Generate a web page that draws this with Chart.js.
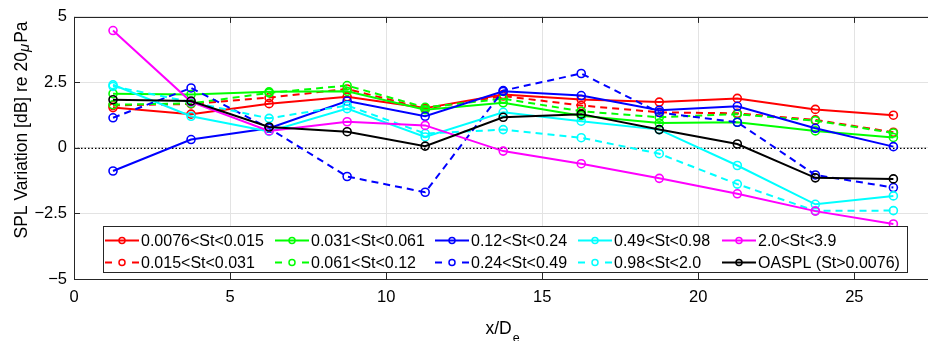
<!DOCTYPE html>
<html lang="en">
  <head>
    <meta charset="UTF-8" />
    <title>SPL variation along x/De</title>
    <script src="https://cdn.jsdelivr.net/npm/chart.js@4.5.0/dist/chart.umd.min.js"></script>
    <style>
      html, body { margin: 0; padding: 0; background: #fff; overflow: hidden; }
      #wrap { width: 938px; height: 341px; }
    </style>
  </head>
  <body>
    <div id="wrap"><canvas id="myChart" width="938" height="341"></canvas></div>

    <script>
      // axial stations (x/De) and tick values
      const xPos = [1.25, 3.75, 6.25, 8.75, 11.25, 13.75, 16.25, 18.75, 21.25, 23.75, 26.25];
      const xTicks = [0, 5, 10, 15, 20, 25];
      const yTicks = [-5, -2.5, 0, 2.5, 5];

      // SPL variation per Strouhal band [dB]
      const st0076 = [1.54, 1.29, 1.69, 1.95, 1.52, 2.04, 1.85, 1.75, 1.89, 1.47, 1.25];
      const st015 = [1.62, 1.68, 1.92, 2.25, 1.5, 1.98, 1.62, 1.36, 1.32, 1.07, 0.6];
      const st031 = [2.07, 2.04, 2.14, 2.16, 1.46, 1.72, 1.23, 0.95, 0.98, 0.65, 0.4];
      const st061 = [1.65, 1.7, 2.1, 2.38, 1.55, 1.88, 1.4, 1.17, 1.29, 1.04, 0.57];
      const st12 = [-0.88, 0.32, 0.75, 1.79, 1.21, 2.16, 2.0, 1.44, 1.59, 0.75, 0.05];
      const st24 = [1.15, 2.29, 0.75, -1.09, -1.69, 2.19, 2.84, 1.35, 0.98, -1.03, -1.51];
      const st49 = [2.41, 1.21, 0.63, 1.5, 0.42, 1.36, 1.02, 0.7, -0.67, -2.15, -1.83];
      const st98 = [2.35, 1.75, 1.13, 1.62, 0.55, 0.7, 0.39, -0.22, -1.38, -2.4, -2.39];
      const st20 = [4.48, 1.76, 0.65, 1.0, 0.86, -0.12, -0.6, -1.16, -1.75, -2.41, -2.9];
      const oaspl = [1.84, 1.79, 0.8, 0.62, 0.07, 1.17, 1.29, 0.7, 0.15, -1.14, -1.18];

      const labels = [
        "0.0076<St<0.015", "0.015<St<0.031", "0.031<St<0.061", "0.061<St<0.12",
        "0.12<St<0.24", "0.24<St<0.49", "0.49<St<0.98", "0.98<St<2.0",
        "2.0<St<3.9", "OASPL (St>0.0076)",
      ];
      const series = [st0076, st015, st031, st061, st12, st24, st49, st98, st20, oaspl];
      const colors = ["#ff0000", "#ff0000", "#00ff00", "#00ff00", "#0000ff", "#0000ff",
                      "#00ffff", "#00ffff", "#ff00ff", "#000000"];
      const dashed = [false, true, false, true, false, true, false, true, false, false];

      const FONT = "'Liberation Sans', Arial, Helvetica, sans-serif";

      const datasets = series.map((vals, i) => ({
        label: labels[i],
        data: vals.map((v, k) => ({ x: xPos[k], y: v })),
        borderColor: colors[i],
        borderWidth: 2,
        borderDash: dashed[i] ? [7, 5] : [],
        pointRadius: 4,
        pointBorderWidth: 1.6,
        pointBorderColor: colors[i],
        pointBackgroundColor: "rgba(0,0,0,0)",
        tension: 0,
        order: series.length - i, // later series drawn on top
      }));

      // dotted zero line, box, inward ticks, axis titles and the legend
      const decor = {
        id: "decor",
        beforeDatasetsDraw(chart) {
          const { ctx, chartArea: a, scales } = chart;
          const y0 = scales.y.getPixelForValue(0);
          ctx.save();
          ctx.strokeStyle = "#000";
          ctx.lineWidth = 1.2;
          ctx.setLineDash([1.5, 2]);
          ctx.beginPath();
          ctx.moveTo(a.left, y0 + 0.5);
          ctx.lineTo(a.right, y0 + 0.5);
          ctx.stroke();
          ctx.restore();
        },
        afterDraw(chart) {
          const { ctx, chartArea: a, scales } = chart;
          ctx.save();
          // axes box
          ctx.strokeStyle = "#262626";
          ctx.lineWidth = 1;
          ctx.strokeRect(Math.round(a.left) + 0.5, Math.round(a.top) + 0.5,
                         Math.round(a.right - a.left), Math.round(a.bottom - a.top));
          // inward ticks
          ctx.beginPath();
          xTicks.forEach((v) => {
            const px = Math.round(scales.x.getPixelForValue(v)) + 0.5;
            ctx.moveTo(px, a.bottom); ctx.lineTo(px, a.bottom - 6);
            ctx.moveTo(px, a.top); ctx.lineTo(px, a.top + 6);
          });
          yTicks.forEach((v) => {
            const py = Math.round(scales.y.getPixelForValue(v)) + 0.5;
            ctx.moveTo(a.left, py); ctx.lineTo(a.left + 6, py);
          });
          ctx.stroke();

          // y title with italic mu
          ctx.fillStyle = "#000";
          ctx.textBaseline = "alphabetic";
          const fMain = "17.5px " + FONT;
          const fMu = "italic 15px " + FONT;
          ctx.font = fMain;
          const p1 = "SPL Variation [dB] re 20";
          const p3 = "Pa";
          const w1 = ctx.measureText(p1).width;
          const w3 = ctx.measureText(p3).width;
          ctx.font = fMu;
          const w2 = ctx.measureText("\u03bc").width + 1;
          const total = w1 + w2 + w3;
          ctx.translate(27, 130);
          ctx.rotate(-Math.PI / 2);
          let cx = -total / 2;
          ctx.font = fMain;
          ctx.fillText(p1, cx, 0);
          cx += w1;
          ctx.font = fMu;
          ctx.fillText("\u03bc", cx, 2);
          cx += w2;
          ctx.font = fMain;
          ctx.fillText(p3, cx, 0);
          ctx.setTransform(1, 0, 0, 1, 0, 0);

          // x title with subscript
          ctx.font = fMain;
          const xt = "x/D";
          const wx = ctx.measureText(xt).width;
          ctx.font = "12.5px " + FONT;
          const we = ctx.measureText("e").width;
          const xs = 502 - (wx + we) / 2;
          ctx.font = fMain;
          ctx.fillText(xt, xs, 334);
          ctx.font = "12.5px " + FONT;
          ctx.fillText("e", xs + wx + 1, 342);

          // legend: two rows, five columns
          const box = { l: 103, t: 226, r: 907, b: 272 };
          ctx.fillStyle = "#fff";
          ctx.fillRect(box.l, box.t, box.r - box.l, box.b - box.t);
          ctx.strokeStyle = "#262626";
          ctx.lineWidth = 1;
          ctx.strokeRect(box.l + 0.5, box.t + 0.5, box.r - box.l, box.b - box.t);
          const colX = [105, 275, 435, 578, 722];
          const rowY = [240, 262];
          ctx.font = "16px " + FONT;
          ctx.textBaseline = "middle";
          datasets.forEach((ds, i) => {
            const x = colX[Math.floor(i / 2)];
            const y = rowY[i % 2] + 0.5;
            ctx.strokeStyle = ds.borderColor;
            ctx.lineWidth = 2;
            ctx.beginPath();
            if (dashed[i]) {
              ctx.moveTo(x, y); ctx.lineTo(x + 7, y);
              ctx.moveTo(x + 27, y); ctx.lineTo(x + 34, y);
            } else {
              ctx.moveTo(x, y); ctx.lineTo(x + 34, y);
            }
            ctx.stroke();
            ctx.lineWidth = 1.5;
            ctx.beginPath();
            ctx.arc(x + 17, y, 3, 0, Math.PI * 2);
            ctx.stroke();
            ctx.fillStyle = "#000";
            ctx.fillText(ds.label, x + 36, y + 1);
          });
          ctx.restore();
        },
      };

      const ctx = document.getElementById("myChart");

      new Chart(ctx, {
        type: "line",
        data: { datasets },
        options: {
          responsive: false,
          animation: false,
          layout: { padding: { top: 10, right: 2, left: 0, bottom: 0 } },
          plugins: { legend: { display: false }, tooltip: { enabled: false } },
          scales: {
            x: {
              type: "linear",
              min: 0,
              max: 27.5,
              afterBuildTicks: (s) => { s.ticks = xTicks.map((v) => ({ value: v })); },
              afterFit: (s) => { s.height = 62; },
              ticks: { color: "#000", font: { family: FONT, size: 16.5 }, padding: 9, maxRotation: 0 },
              grid: { color: "#e3e3e3", drawTicks: false },
              border: { display: false },
            },
            y: {
              min: -5,
              max: 5,
              afterBuildTicks: (s) => { s.ticks = yTicks.map((v) => ({ value: v })); },
              afterFit: (s) => { s.width = 74; },
              ticks: {
                color: "#000",
                font: { family: FONT, size: 16.5 },
                padding: 7,
                callback: (v) => (v < 0 ? "\u2212" + Math.abs(v) : String(v)),
              },
              grid: { color: "#e3e3e3", drawTicks: false },
              border: { display: false },
            },
          },
        },
        plugins: [decor],
      });
    </script>
  </body>
</html>
